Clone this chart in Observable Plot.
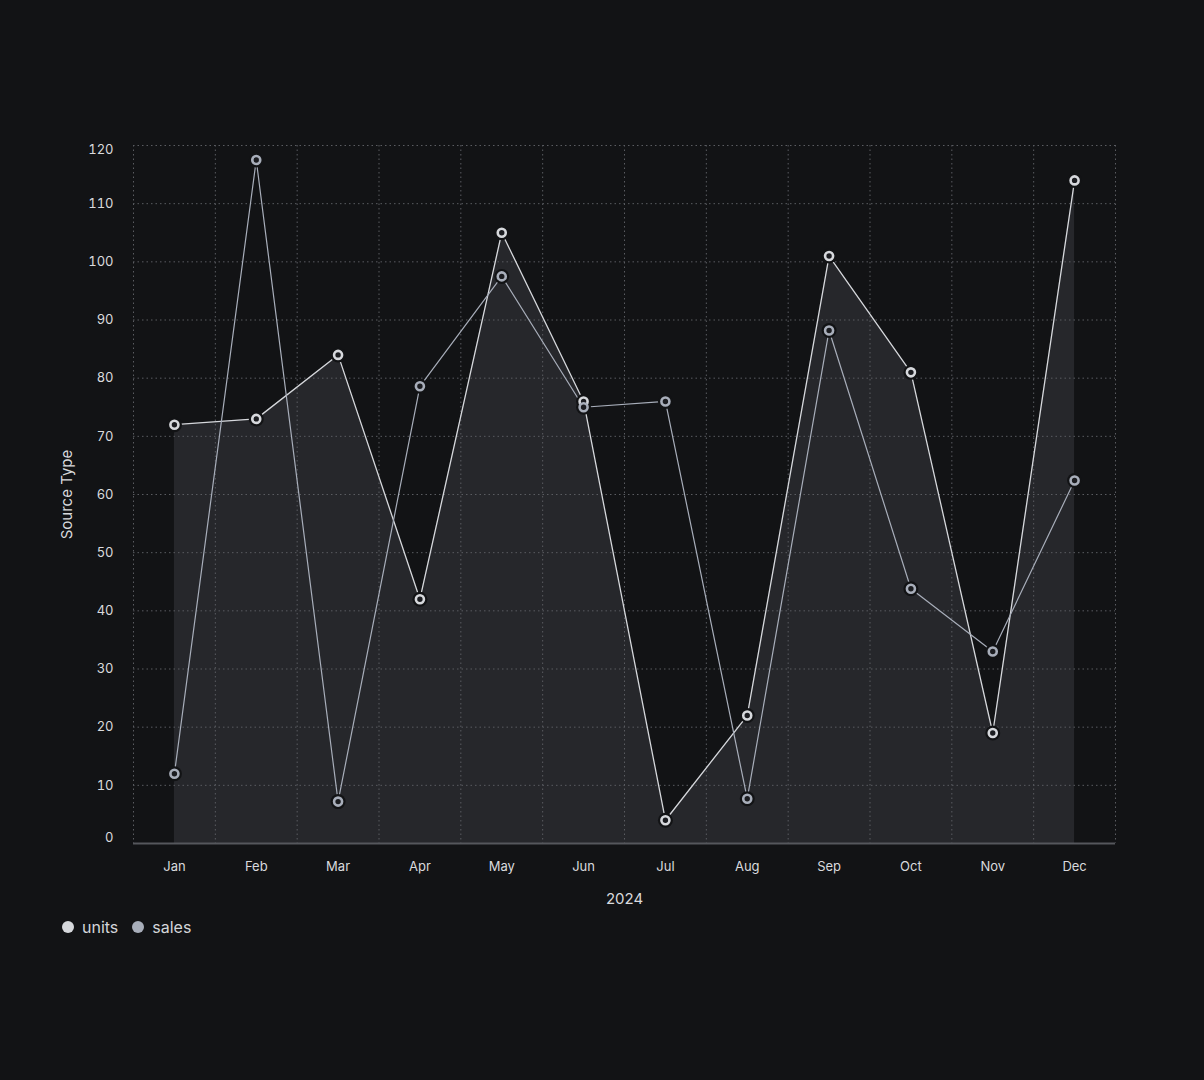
<!DOCTYPE html>
<html>
<head>
<meta charset="utf-8">
<script src="https://cdn.jsdelivr.net/npm/d3@7"></script>
<script src="https://cdn.jsdelivr.net/npm/@observablehq/plot@0.6"></script>
<style>
  html, body { margin: 0; padding: 0; background: #121315; }
  body { width: 1204px; height: 1080px; font-family: Inter, "Noto Sans", sans-serif; color: #d4d6da; }
  #chart svg { display: block; }
  #legend { display: flex; align-items: center; gap: 14px; margin-left: 62px; margin-top: 2px; font-size: 16px; color: #d4d6da; }
  #legend .item { display: flex; align-items: center; gap: 8px; }
  #legend .sw { width: 12px; height: 12px; border-radius: 50%; display: inline-block; }
</style>
</head>
<body>
<div id="chart"></div>
<div id="legend"></div>
<script>
const months = ["Jan","Feb","Mar","Apr","May","Jun","Jul","Aug","Sep","Oct","Nov","Dec"];
const units = [72, 73, 84, 42, 105, 76, 4, 22, 101, 81, 19, 114];
const sales = [12, 117.5, 7.2, 78.6, 97.5, 75, 76, 7.7, 88.2, 43.8, 33, 62.4];
const seriesNames = ["units", "sales"];
const seriesColors = ["#d6d8dc", "#a8aeba"];
const yTicks = [0, 10, 20, 30, 40, 50, 60, 70, 80, 90, 100, 110, 120];

const rows = [];
months.forEach((m, i) => {
  rows.push({i, month: m, series: "units", value: units[i]});
  rows.push({i, month: m, series: "sales", value: sales[i]});
});
const unitRows = rows.filter(d => d.series === "units");
const salesRows = rows.filter(d => d.series === "sales");
const bandEdges = d3.range(-0.5, months.length, 1);
const midTicks = yTicks.slice(1, -1);

const axisStyle = {tickSize: 0, tickPadding: 20, fontSize: 13, fill: "#d9dadd"};

const chart = Plot.plot({
  width: 1204,
  height: 915,
  marginLeft: 133,
  marginRight: 89,
  marginTop: 145,
  marginBottom: 72,
  style: {background: "#121315", color: "#d9dadd", fontFamily: "Inter, 'Noto Sans', sans-serif", fontSize: "13px"},
  x: {type: "linear", domain: [-0.5, months.length - 0.5]},
  y: {domain: [0, 120]},
  marks: [
    Plot.areaY(unitRows, {x: "i", y: "value", fill: "#26272b"}),
    Plot.ruleY(yTicks, {stroke: "#5a5c61", strokeDasharray: "1.5,3", strokeWidth: 1}),
    Plot.ruleX(bandEdges, {stroke: "#5a5c61", strokeDasharray: "1.5,3", strokeWidth: 1}),
    Plot.ruleY([0], {stroke: "#55575c", strokeWidth: 2}),
    Plot.line(unitRows, {x: "i", y: "value", stroke: seriesColors[0], strokeWidth: 1.3}),
    Plot.line(salesRows, {x: "i", y: "value", stroke: seriesColors[1], strokeWidth: 1.2}),
    Plot.dot(rows, {x: "i", y: "value", r: 7.5, fill: "#121315", stroke: "none"}),
    Plot.dot(rows, {x: "i", y: "value", r: 4, fill: "#1b1c20", stroke: "series", strokeWidth: 2.6}),
    Plot.axisY({ticks: midTicks, ...axisStyle, label: "Source Type", labelAnchor: "center", labelArrow: "none", labelOffset: 72, fontSize: 13}),
    Plot.axisY({ticks: [120], ...axisStyle, dy: 4, label: null}),
    Plot.axisY({ticks: [0], ...axisStyle, dy: -6, label: null}),
    Plot.axisX({ticks: d3.range(months.length), tickFormat: i => months[i], tickSize: 0, tickPadding: 18, fill: "#d9dadd", label: "2024", labelAnchor: "center", labelArrow: "none", labelOffset: 60, fontSize: 13})
  ],
  color: {domain: seriesNames, range: seriesColors}
});
// enlarge axis titles
chart.querySelectorAll("g[aria-label='y-axis label'] text, g[aria-label='x-axis label'] text").forEach(t => {
  t.style.fontSize = "15px";
  t.setAttribute("fill", "#d9dadd");
});
document.getElementById("chart").appendChild(chart);

const legend = document.getElementById("legend");
seriesNames.forEach((name, k) => {
  const item = document.createElement("span");
  item.className = "item";
  const sw = document.createElement("span");
  sw.className = "sw";
  sw.style.background = seriesColors[k];
  const label = document.createElement("span");
  label.textContent = name;
  item.appendChild(sw);
  item.appendChild(label);
  legend.appendChild(item);
});
</script>
</body>
</html>
